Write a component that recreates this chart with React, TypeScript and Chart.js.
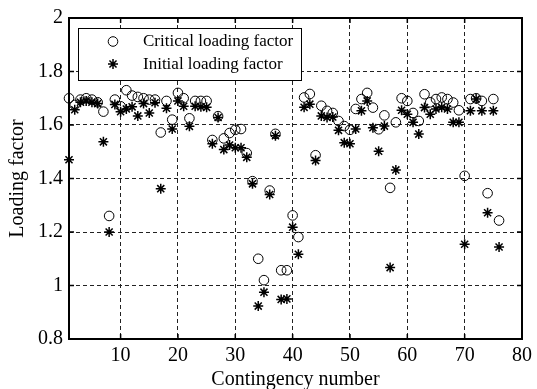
import { useEffect, useRef } from 'react';
import { Chart, registerables } from 'chart.js';

Chart.register(...registerables);

// Contingency cases (x) and the two loading factors computed for each one
const contingency = [
  1, 2, 3, 4, 5, 6, 7, 8, 9, 10, 11, 12, 13, 14, 15, 16, 17, 18, 19, 20,
  21, 22, 23, 24, 25, 26, 27, 28, 29, 30, 31, 32, 33, 34, 35, 36, 37, 38, 39, 40,
  41, 42, 43, 44, 45, 46, 47, 48, 49, 50, 51, 52, 53, 54, 55, 56, 57, 58, 59, 60,
  61, 62, 63, 64, 65, 66, 67, 68, 69, 70, 71, 72, 73, 74, 75, 76,
];

const criticalLoading = [
  1.70, 1.675, 1.695, 1.70, 1.695, 1.685, 1.65, 1.26, 1.695, 1.67,
  1.73, 1.71, 1.705, 1.70, 1.695, 1.695, 1.572, 1.69, 1.62, 1.72,
  1.70, 1.625, 1.69, 1.69, 1.69, 1.544, 1.633, 1.55, 1.57, 1.582,
  1.585, 1.495, 1.39, 1.10, 1.02, 1.355, 1.567, 1.057, 1.057, 1.262,
  1.181, 1.703, 1.716, 1.487, 1.672, 1.653, 1.645, 1.615, 1.596, 1.582,
  1.66, 1.697, 1.72, 1.665, 1.584, 1.636, 1.365, 1.61, 1.70, 1.69,
  1.645, 1.615, 1.715, 1.685, 1.697, 1.703, 1.697, 1.684, 1.655, 1.41,
  1.697, 1.70, 1.69, 1.345, 1.697, 1.243,
];

const initialLoading = [
  1.47, 1.657, 1.685, 1.69, 1.685, 1.68, 1.537, 1.20, 1.677, 1.65,
  1.66, 1.668, 1.634, 1.68, 1.645, 1.683, 1.362, 1.663, 1.585, 1.69,
  1.67, 1.595, 1.67, 1.668, 1.666, 1.53, 1.628, 1.508, 1.525, 1.515,
  1.515, 1.479, 1.38, 0.923, 0.975, 1.34, 1.56, 0.948, 0.95, 1.218,
  1.117, 1.666, 1.678, 1.467, 1.634, 1.628, 1.63, 1.58, 1.534, 1.53,
  1.585, 1.653, 1.69, 1.59, 1.502, 1.596, 1.067, 1.432, 1.655, 1.64,
  1.61, 1.566, 1.665, 1.64, 1.66, 1.666, 1.66, 1.61, 1.61, 1.154,
  1.653, 1.697, 1.653, 1.272, 1.653, 1.144,
];

const xTickValues = [10, 20, 30, 40, 50, 60, 70, 80];
const yTickValues = [0.8, 1, 1.2, 1.4, 1.6, 1.8, 2];

const SERIF = '"Liberation Serif", "Times New Roman", serif';

function drawMarker(ctx: CanvasRenderingContext2D, style: string, x: number, y: number, r: number, lw: number) {
  ctx.save();
  ctx.strokeStyle = '#000';
  ctx.lineWidth = lw;
  ctx.beginPath();
  if (style === 'circle') {
    ctx.arc(x, y, r, 0, Math.PI * 2);
  } else {
    const d = r * Math.SQRT1_2;
    ctx.moveTo(x, y - r); ctx.lineTo(x, y + r);
    ctx.moveTo(x - r, y); ctx.lineTo(x + r, y);
    ctx.moveTo(x - d, y - d); ctx.lineTo(x + d, y + d);
    ctx.moveTo(x - d, y + d); ctx.lineTo(x + d, y - d);
  }
  ctx.stroke();
  ctx.restore();
}

// Axes box with inward tick marks, plus the boxed legend in the upper-left corner
const framePlugin = {
  id: 'frame',
  beforeDatasetsDraw(chart: any) {
    const { ctx, chartArea: a, scales } = chart;
    const t = 5;
    ctx.save();
    ctx.strokeStyle = '#000';
    ctx.lineWidth = 1.5;
    ctx.beginPath();
    for (const v of xTickValues) {
      const px = scales.x.getPixelForValue(v);
      ctx.moveTo(px, a.bottom); ctx.lineTo(px, a.bottom - t);
      ctx.moveTo(px, a.top); ctx.lineTo(px, a.top + t);
    }
    for (const v of yTickValues) {
      const py = scales.y.getPixelForValue(v);
      ctx.moveTo(a.left, py); ctx.lineTo(a.left + t, py);
      ctx.moveTo(a.right, py); ctx.lineTo(a.right - t, py);
    }
    ctx.stroke();
    ctx.lineWidth = 2;
    ctx.strokeRect(a.left, a.top, a.right - a.left, a.bottom - a.top);
    ctx.restore();
  },
  afterDatasetsDraw(chart: any) {
    const { ctx, chartArea: a } = chart;
    const bx = a.left + 9;
    const by = a.top + 10;
    const bw = 223;
    const bh = 52;
    ctx.save();
    ctx.fillStyle = '#fff';
    ctx.fillRect(bx, by, bw, bh);
    ctx.strokeStyle = '#000';
    ctx.lineWidth = 1;
    ctx.strokeRect(bx + 0.5, by + 0.5, bw, bh);
    ctx.font = `17px ${SERIF}`;
    ctx.fillStyle = '#000';
    ctx.textBaseline = 'middle';
    ctx.textAlign = 'left';
    const rows = [by + 13.5, by + 36];
    chart.data.datasets.forEach((ds: any, i: number) => {
      drawMarker(ctx, ds.pointStyle, bx + 35, rows[i], ds.pointRadius, ds.borderWidth);
      ctx.fillText(ds.label, bx + 65, rows[i] + 0.5);
    });
    ctx.restore();
  },
};

export default function App() {
  const ref = useRef<HTMLCanvasElement>(null);

  useEffect(() => {
    const canvas = ref.current;
    if (!canvas) return;
    const chart = new Chart(canvas, {
      type: 'scatter',
      data: {
        datasets: [
          {
            label: 'Critical loading factor',
            data: contingency.map((n, i) => ({ x: n, y: criticalLoading[i] })),
            pointStyle: 'circle',
            pointRadius: 4.8,
            borderColor: '#000',
            backgroundColor: 'rgba(0,0,0,0)',
            borderWidth: 1,
            clip: false,
          },
          {
            label: 'Initial loading factor',
            data: contingency.map((n, i) => ({ x: n, y: initialLoading[i] })),
            pointStyle: 'star',
            pointRadius: 5,
            borderColor: '#000',
            backgroundColor: '#000',
            borderWidth: 1.5,
            clip: false,
          },
        ],
      } as any,
      options: {
        responsive: false,
        animation: false,
        devicePixelRatio: 1,
        layout: { padding: { left: 0, top: 17, right: 12, bottom: 0 } },
        plugins: { legend: { display: false }, tooltip: { enabled: false } },
        scales: {
          x: {
            type: 'linear',
            min: 1,
            max: 80,
            afterBuildTicks: (s: any) => { s.ticks = xTickValues.map((v) => ({ value: v })); },
            afterFit: (s: any) => { s.height = 50; },
            grid: { color: '#222', lineWidth: 1, drawTicks: false },
            border: { display: false, dash: [4, 3] },
            ticks: {
              color: '#000',
              font: { family: SERIF, size: 20 },
              padding: 5,
              maxRotation: 0,
              autoSkip: false,
            },
            title: {
              display: true,
              text: 'Contingency number',
              color: '#000',
              font: { family: SERIF, size: 20, lineHeight: 0.9 },
              padding: { top: 0, bottom: 0 },
            },
          },
          y: {
            type: 'linear',
            min: 0.8,
            max: 2,
            afterBuildTicks: (s: any) => { s.ticks = yTickValues.map((v) => ({ value: v })); },
            afterFit: (s: any) => { s.width = 69; },
            grid: { color: '#222', lineWidth: 1, drawTicks: false },
            border: { display: false, dash: [4, 3] },
            ticks: {
              color: '#000',
              font: { family: SERIF, size: 20 },
              padding: 6,
              callback: (v: any) => String(Math.round(Number(v) * 10) / 10),
            },
            title: {
              display: true,
              text: 'Loading factor',
              color: '#000',
              font: { family: SERIF, size: 20, lineHeight: 1.2 },
              padding: { top: 6, bottom: 0 },
            },
          },
        },
      } as any,
      plugins: [framePlugin],
    });
    return () => chart.destroy();
  }, []);

  return (
    <div style={{ position: 'absolute', left: 0, top: 0, width: 537, height: 389, background: '#fff' }}>
      <canvas ref={ref} width={537} height={389} style={{ display: 'block' }} />
    </div>
  );
}
